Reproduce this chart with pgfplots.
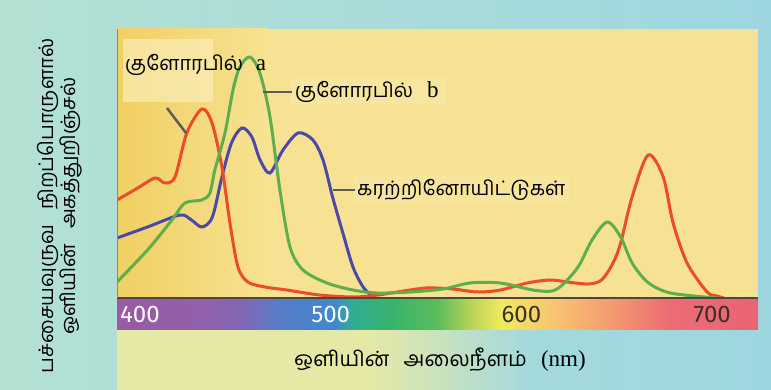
\documentclass[border=0pt]{standalone}
\usepackage{fontspec}
\usepackage{pgfplots}
\pgfplotsset{compat=1.18}
\setmainfont{Liberation Serif}
\newfontfamily\tamil[Script=Tamil]{Hind Madurai}
\newfontfamily\numfont{Fira Sans}

\definecolor{bgleft}{HTML}{B3E1D3}
\definecolor{bgright}{HTML}{9ED6E0}
\definecolor{plotbg}{HTML}{F6E292}
\definecolor{plotbgdark}{HTML}{F1D063}
\definecolor{lowyellow}{HTML}{E6E9A6}
\definecolor{lowteal}{HTML}{A9DBD8}
\definecolor{boxlight}{HTML}{FAEDB6}
\definecolor{leader}{HTML}{5C5C5C}
\definecolor{labeldark}{HTML}{3A3228}
\definecolor{chla}{HTML}{EE4B2B}
\definecolor{chlb}{HTML}{5FAE4C}
\definecolor{carot}{HTML}{4B4AA8}
% spectrum colours, left to right
\definecolor{sp0}{HTML}{9A5AA6}
\definecolor{sp1}{HTML}{9260AA}
\definecolor{sp2}{HTML}{8466B4}
\definecolor{sp3}{HTML}{5A7CC6}
\definecolor{sp4}{HTML}{3F88D0}
\definecolor{sp5}{HTML}{2FAE92}
\definecolor{sp6}{HTML}{38B46C}
\definecolor{sp7}{HTML}{5CBC5C}
\definecolor{sp8}{HTML}{B4D258}
\definecolor{sp9}{HTML}{F2EA5C}
\definecolor{sp10}{HTML}{F8C072}
\definecolor{sp11}{HTML}{F29270}
\definecolor{sp12}{HTML}{EC6C74}
\definecolor{sp13}{HTML}{EA6474}
\pgfdeclarehorizontalshading{spectrum}{100bp}{color(0bp)=(sp0); color(25bp)=(sp0);
  color(31.5bp)=(sp1); color(34.5bp)=(sp2); color(37.5bp)=(sp3); color(42bp)=(sp4);
  color(43.4bp)=(sp5); color(46.5bp)=(sp6); color(50bp)=(sp7); color(52.5bp)=(sp8);
  color(55bp)=(sp9); color(59.5bp)=(sp10); color(64.5bp)=(sp11); color(68bp)=(sp12);
  color(75bp)=(sp13); color(100bp)=(sp13)}

\begin{document}
\begin{tikzpicture}
% page and plot area backgrounds (axis box is 0..641pt x 0..301pt)
\useasboundingbox (-117pt,-60pt) rectangle (654pt,330pt);
\shade[left color=bgleft, right color=bgright] (-117pt,-60pt) rectangle (654pt,330pt);
\fill[lowyellow] (0pt,-60pt) rectangle (250pt,0pt);
\shade[left color=lowyellow, right color=lowteal] (250pt,-60pt) rectangle (400pt,0pt);
\fill[plotbg] (0pt,31pt) rectangle (641pt,301pt);
\shade[left color=plotbgdark, right color=plotbg] (0pt,31pt) rectangle (150pt,301pt);
\fill[boxlight, opacity=0.7] (6pt,228pt) rectangle (96pt,291pt);
\fill[boxlight, opacity=0.4] (174pt,225pt) rectangle (330pt,252pt);
\fill[boxlight, opacity=0.3] (236pt,126pt) rectangle (452pt,154pt);
\shade[shading=spectrum] (0pt,0pt) rectangle (641pt,31pt);

\begin{axis}[
  at={(0pt,0pt)}, anchor=south west,
  width=641pt, height=301pt, scale only axis,
  xmin=388, xmax=724, ymin=-32, ymax=269,
  axis line style={draw=none},
  ytick=\empty,
  xtick={400,500,600,700},
  xticklabels={{\color{white}400},{\color{white}500},{\color{labeldark}600},{\color{labeldark}700}},
  major tick length=0pt,
  xticklabel style={anchor=center, yshift=16pt, font=\numfont\fontsize{24}{24}\selectfont},
  every axis plot/.append style={line width=3pt, smooth, no marks},
]
% carotenoids
\addplot[carot] coordinates {
  (388,60) (404,71) (421,83) (427,78) (432.5,71) (438,81) (443,121) (448,155)
  (453.5,170) (458.7,161) (463,138) (468.2,125) (475,148) (483,165) (490.7,158)
  (496,138) (501,101) (506.4,65) (511.7,31) (517,11) (522.2,1)
};
% chlorophyll a
\addplot[chla] coordinates {
  (388,98) (398,109) (408,120) (413,115) (418.4,121) (424.6,165) (432.5,189)
  (437.8,175) (443,131) (447.2,75) (451.4,31) (456.6,16) (465.5,11) (477,8)
  (494,3) (512,1) (525,3) (535,6) (550,10) (564,9) (577,6) (589,8) (603,15)
  (615,18) (624,16) (635,14) (642,18) (648,35) (652,55) (658,101) (666.4,143)
  (674.3,121) (679.5,75) (686.8,35) (697.3,6) (702.6,2) (706,0)
};
% chlorophyll b
\addplot[chlb] coordinates {
  (388,16) (404,48) (416.8,78) (423.6,95) (432.5,98) (436.7,105) (439.3,128)
  (444.6,165) (448.8,208) (452.4,231) (457.7,241) (462.9,225) (468.2,181)
  (473.4,108) (478.7,51) (485.5,28) (498,15) (511.7,8) (524.3,5) (541.6,6)
  (558.9,9) (573,15) (588.8,15) (606,8) (616,7) (622,14) (630,32) (637,58)
  (645,76) (652,61) (658,35) (666,16) (676,6) (690,2) (703,0)
};
\end{axis}

% baseline above the spectrum and left edge of the plot area
\draw[color=labeldark!90, line width=2pt] (0pt,32pt) -- (641pt,32pt);
\draw[color=gray!70!olive, line width=1pt] (0pt,32pt) -- (0pt,301pt);

% curve labels with leader lines
\draw[leader, line width=2.5pt] (50pt,222pt) -- (69pt,197pt);
\node[anchor=west, inner sep=0pt] at (8pt,265pt)
  {\fontsize{20}{24}\selectfont\tamil குளோரபில்\hspace{13pt}\fontsize{23}{24}\selectfont\rmfamily a};
\draw[leader, line width=2.5pt] (146pt,238pt) -- (175pt,238pt);
\node[anchor=west, inner sep=0pt] at (178pt,238pt)
  {\fontsize{20}{24}\selectfont\tamil குளோரபில்\hspace{14pt}\fontsize{23}{24}\selectfont\rmfamily b};
\draw[leader, line width=2.5pt] (216pt,140pt) -- (238pt,140pt);
\node[anchor=west, inner sep=0pt] at (240pt,140pt)
  {\fontsize{20}{24}\selectfont\tamil கரற்றினோயிட்டுகள்};

% axis titles
\node[inner sep=0pt] at (323pt,-30pt)
  {\fontsize{21}{24}\selectfont\tamil ஒளியின்\hspace{9pt} அலைநீளம்\hspace{9pt} \fontsize{23}{24}\selectfont\rmfamily(nm)};
\node[rotate=90, align=center, inner sep=0pt, font=\fontsize{20}{19}\selectfont\tamil]
  at (-57pt,124pt) {பச்சையவுருவ\hspace{10pt} நிறப்பொருளால்\\ ஒளியின்\hspace{10pt} அகத்துறிஞ்சல்};
\end{tikzpicture}
\end{document}
